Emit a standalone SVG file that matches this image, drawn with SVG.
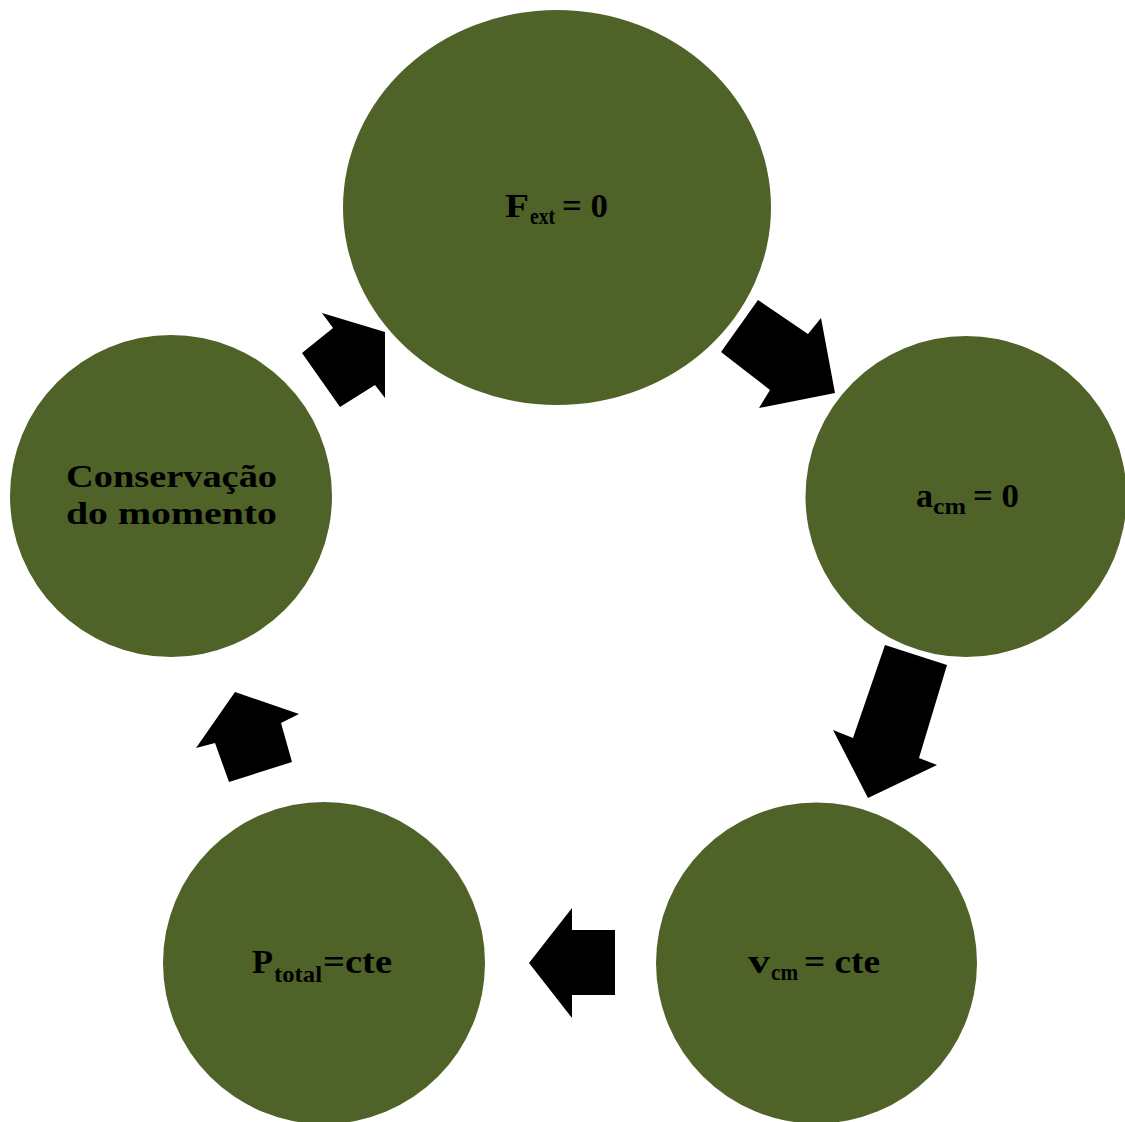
<svg xmlns="http://www.w3.org/2000/svg" width="1125" height="1122" viewBox="0 0 1125 1122">
<style>
.node{fill:#4F6228}
.t{font-family:"Liberation Serif","Times New Roman",serif;font-weight:bold;fill:#000;font-size:34px}
.c{font-family:"Liberation Serif","Times New Roman",serif;font-weight:bold;fill:#000;font-size:32px}
.s{font-family:"Liberation Serif","Times New Roman",serif;font-weight:bold;fill:#000;font-size:23px}
.arrow{fill:#000}
</style>
<rect width="1125" height="1122" fill="#fff"/>
<g id="connectors">
<polygon class="arrow" points="758,300 808,334 821,318 835,393 759,408 770,390 721,352"/>
<polygon class="arrow" points="885,645 947,665 919,758 937,765 868,798 833,730 853,738"/>
<polygon class="arrow" points="615,930 615,995 572,995 572,1018 529,963 572,908 572,930"/>
<polygon class="arrow" points="229,782 292,762 281,723 299,714 235,692 196,748 215,743"/>
<polygon class="arrow" points="302,353 340,407 375,385 385,398 385,332 322,313 333,328"/>
</g>
<g id="node-fext">
<ellipse class="node" cx="557" cy="207.5" rx="214" ry="197.5"/>
<text class="t" x="505" y="217" textLength="24" lengthAdjust="spacingAndGlyphs">F</text>
<text class="s" x="530" y="224" textLength="25" lengthAdjust="spacingAndGlyphs">ext</text>
<text class="t" x="562" y="217" textLength="46" lengthAdjust="spacingAndGlyphs">= 0</text>
</g>
<g id="node-acm">
<circle class="node" cx="966" cy="496.5" r="160.5"/>
<text class="t" x="916" y="507" textLength="17" lengthAdjust="spacingAndGlyphs">a</text>
<text class="s" x="933" y="514" textLength="33" lengthAdjust="spacingAndGlyphs">cm</text>
<text class="t" x="973" y="507" textLength="46" lengthAdjust="spacingAndGlyphs">= 0</text>
</g>
<g id="node-vcm">
<circle class="node" cx="816.5" cy="963" r="160.5"/>
<text class="t" x="748" y="973" textLength="22" lengthAdjust="spacingAndGlyphs">v</text>
<text class="s" x="771" y="980" textLength="27" lengthAdjust="spacingAndGlyphs">cm</text>
<text class="t" x="804" y="973" textLength="76" lengthAdjust="spacingAndGlyphs">= cte</text>
</g>
<g id="node-ptotal">
<circle class="node" cx="324" cy="963" r="161"/>
<text class="t" x="252" y="973" textLength="21" lengthAdjust="spacingAndGlyphs">P</text>
<text class="s" x="274" y="982" textLength="48" lengthAdjust="spacingAndGlyphs">total</text>
<text class="t" x="323" y="973" textLength="69" lengthAdjust="spacingAndGlyphs">=cte</text>
</g>
<g id="node-conservacao">
<circle class="node" cx="171" cy="496" r="161"/>
<text class="c" x="66" y="487" textLength="211" lengthAdjust="spacingAndGlyphs">Conservação</text>
<text class="c" x="66" y="524" textLength="211" lengthAdjust="spacingAndGlyphs">do momento</text>
</g>
</svg>
